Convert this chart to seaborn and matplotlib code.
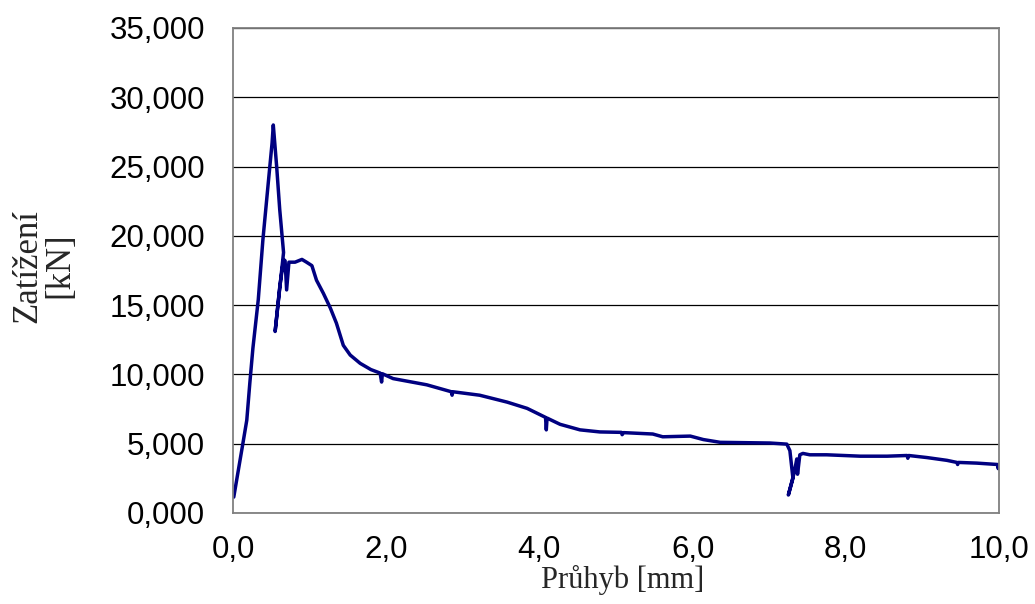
import matplotlib
matplotlib.use("Agg")
import matplotlib.pyplot as plt
import seaborn as sns
import pandas as pd
from matplotlib.ticker import FuncFormatter, MultipleLocator

# Deflection [mm]
deflection = [0.01, 0.07, 0.13, 0.18, 0.22, 0.26, 0.33, 0.39, 0.46, 0.51, 0.526, 0.57, 0.61, 0.66,
              0.55, 0.61, 0.66, 0.68, 0.70, 0.73, 0.81, 0.90, 0.96, 1.03, 1.09, 1.18, 1.27, 1.35,
              1.44, 1.53, 1.66, 1.80, 1.92, 1.94, 1.95, 2.09, 2.53, 2.85, 2.86, 2.87, 3.22, 3.58,
              3.84, 4.08, 4.09, 4.10, 4.27, 4.53, 4.79, 5.07, 5.08, 5.10, 5.48, 5.61, 5.97, 6.14,
              6.36, 7.01, 7.23, 7.27, 7.31, 7.25, 7.33, 7.36, 7.37, 7.40, 7.44, 7.53, 7.75, 8.19,
              8.54, 8.80, 8.81, 8.82, 9.06, 9.32, 9.45, 9.46, 9.47, 9.71, 9.98, 9.99, 10.0]
# Load [kN]
load = [1.15, 3.1, 5.05, 6.7, 9.4, 11.9, 15.4, 19.7, 23.8, 26.7, 28.0, 25.0, 21.9, 18.8,
        13.1, 16.3, 18.3, 18.2, 16.1, 18.1, 18.1, 18.3, 18.1, 17.85, 16.8, 15.85, 14.8, 13.7,
        12.1, 11.4, 10.8, 10.35, 10.1, 9.45, 10.05, 9.7, 9.25, 8.75, 8.5, 8.75, 8.5, 8.0,
        7.55, 6.9, 6.0, 6.85, 6.4, 6.0, 5.85, 5.82, 5.65, 5.8, 5.7, 5.5, 5.55, 5.3,
        5.1, 5.05, 4.97, 4.5, 2.5, 1.3, 3.0, 3.9, 2.8, 4.2, 4.3, 4.2, 4.2, 4.1,
        4.1, 4.15, 3.95, 4.15, 4.0, 3.8, 3.65, 3.5, 3.65, 3.6, 3.5, 3.2, 3.5]

x_label = "Průhyb [mm]"
y_label = "Zatížení\n[kN]"

sns.set_style("white")
plt.rcParams['font.family'] = ['Liberation Sans', 'DejaVu Sans']

df = pd.DataFrame({"x": deflection, "y": load})

fig = plt.figure(figsize=(10.35, 6.04), dpi=100)
ax = fig.add_axes([233/1035, 1-513/604, (999-233)/1035, (513-28)/604])

sns.lineplot(data=df, x="x", y="y", sort=False, estimator=None, ax=ax,
             color="#000080", linewidth=2.5)

ax.set_xlim(0, 10)
ax.set_ylim(0, 35)
ax.xaxis.set_major_locator(MultipleLocator(2))
ax.yaxis.set_major_locator(MultipleLocator(5))
ax.xaxis.set_major_formatter(FuncFormatter(lambda v, p: f"{v:.1f}".replace('.', ',')))
ax.yaxis.set_major_formatter(FuncFormatter(lambda v, p: f"{v:,.3f}".replace('.', ',')))

ax.yaxis.grid(True, color="black", linewidth=0.9)
ax.xaxis.grid(False)
ax.set_axisbelow(True)
for s in ax.spines.values():
    s.set_color("#808080")
    s.set_linewidth(1.3)

ax.tick_params(axis='both', length=0, labelsize=22.5, colors='black')
ax.tick_params(axis='y', pad=20)
ax.tick_params(axis='x', pad=16)

ax.set_xlabel(x_label, family=['Liberation Serif', 'DejaVu Serif'], fontsize=22)
ax.xaxis.set_label_coords(0.508, -0.108)
ax.xaxis.label.set_va('top')
ax.set_ylabel(y_label, family=['Liberation Serif', 'DejaVu Serif'], fontsize=25,
              linespacing=0.95)
ax.yaxis.set_label_coords(-0.205, 0.51)

fig.savefig("out.png", dpi=100)
